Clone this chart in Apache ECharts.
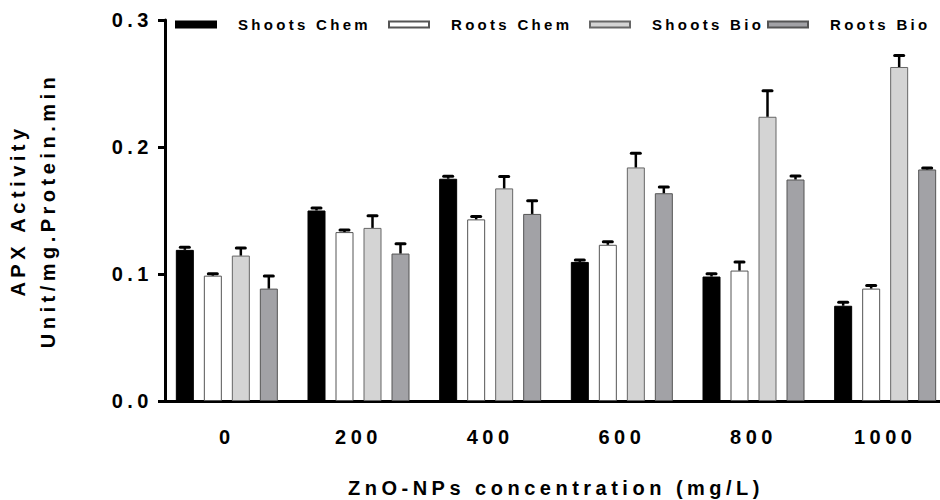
<!DOCTYPE html>
<html>
<head>
<meta charset="utf-8">
<script src="https://cdn.jsdelivr.net/npm/echarts@6/dist/echarts.min.js"></script>
<style>
	html, body { margin: 0; padding: 0; background: #fff; }
	#chart { width: 940px; height: 500px; }
	#chart text { letter-spacing: 4.5px; }
	#chart text[style*="15px"] { letter-spacing: 3.3px; }
</style>
</head>
<body>
<div id="chart"></div>
<script>
var categories = ['0', '200', '400', '600', '800', '1000'];
var seriesNames = ['Shoots Chem', 'Roots Chem', 'Shoots Bio', 'Roots Bio'];
var shootsChem = [0.119, 0.150, 0.175, 0.1095, 0.098, 0.075];
var rootsChem = [0.0987, 0.133, 0.143, 0.123, 0.1027, 0.0885];
var shootsBio = [0.1145, 0.1363, 0.1674, 0.1839, 0.2238, 0.263];
var rootsBio = [0.0885, 0.1161, 0.1473, 0.1636, 0.1744, 0.1823];
var shootsChemErr = [0.002, 0.002, 0.002, 0.0015, 0.0022, 0.0028];
var rootsChemErr = [0.0015, 0.0017, 0.0022, 0.0023, 0.0067, 0.0025];
var shootsBioErr = [0.006, 0.0096, 0.0093, 0.0111, 0.0204, 0.009];
var rootsBioErr = [0.010, 0.0077, 0.0104, 0.0049, 0.0028, 0.0012];

var means = [shootsChem, rootsChem, shootsBio, rootsBio];
var errs = [shootsChemErr, rootsChemErr, shootsBioErr, rootsBioErr];
var fills = ['#000000', '#ffffff', '#d4d4d4', '#a2a2a6'];
var borders = ['#000000', '#555555', '#666666', '#555555'];
var legendLeft = [175, 388, 589, 767];

var barW = 18;
var barGapPx = 10;
var font = 'Liberation Sans, Arial, sans-serif';

let mychart = echarts.init(document.getElementById('chart'), null, { renderer: 'svg' });

var series = [];
var legends = [];
for (var s = 0; s < 4; s++) {
	series.push({
		name: seriesNames[s],
		type: 'bar',
		barWidth: barW,
		barGap: (barGapPx / barW * 100) + '%',
		itemStyle: {
			color: fills[s],
			borderColor: borders[s],
			borderWidth: 1
		},
		data: means[s],
		animation: false
	});
	legends.push({
		data: [seriesNames[s]],
		left: legendLeft[s],
		top: 17,
		padding: 0,
		itemWidth: 40,
		itemHeight: 6,
		icon: 'rect',
		textStyle: {
			color: '#000',
			fontFamily: font,
			fontWeight: 'bold',
			fontSize: 15,
			padding: [5, 0, 0, 17]
		}
	});
}

var errData = [];
for (var s = 0; s < 4; s++) {
	for (var c = 0; c < categories.length; c++) {
		errData.push([c, s, means[s][c], errs[s][c]]);
	}
}

series.push({
	type: 'custom',
	name: 'err',
	z: 5,
	animation: false,
	encode: { x: 0, y: 2 },
	data: errData,
	renderItem: function(params, api) {
		var c = api.value(0);
		var s = api.value(1);
		var base = api.coord([c, api.value(2)]);
		var top = api.coord([c, api.value(2) + api.value(3)]);
		var x = base[0] + (s - 1.5) * (barW + barGapPx);
		return {
			type: 'group',
			children: [{
				type: 'line',
				shape: { x1: x, y1: base[1], x2: x, y2: top[1] },
				style: { stroke: '#000', lineWidth: 2.5 }
			}, {
				type: 'line',
				shape: { x1: x - 4.5, y1: top[1], x2: x + 4.5, y2: top[1] },
				style: { stroke: '#000', lineWidth: 3, lineCap: 'round' }
			}]
		};
	}
});

let option = {
	backgroundColor: '#fff',
	legend: legends,
	grid: {
		left: 161,
		top: 20,
		width: 790,
		height: 381,
		containLabel: false,
		outerBoundsMode: 'none'
	},
	xAxis: {
		type: 'category',
		data: categories,
		name: 'ZnO-NPs concentration (mg/L)',
		nameLocation: 'middle',
		nameGap: 77,
		nameTextStyle: {
			color: '#000',
			fontFamily: font,
			fontWeight: 'bold',
			fontSize: 20
		},
		axisLine: {
			lineStyle: { color: '#000', width: 3 }
		},
		axisTick: {
			alignWithLabel: true,
			length: 8,
			lineStyle: { color: '#000', width: 3 }
		},
		axisLabel: {
			color: '#000',
			fontFamily: font,
			fontWeight: 'bold',
			fontSize: 20,
			margin: 26
		}
	},
	yAxis: {
		type: 'value',
		min: 0,
		max: 0.3,
		interval: 0.1,
		offset: -4,
		name: 'APX Activity\nUnit/mg.Protein.min',
		nameLocation: 'middle',
		nameGap: 102,
		nameTextStyle: {
			color: '#000',
			fontFamily: font,
			fontWeight: 'bold',
			fontSize: 20,
			lineHeight: 30
		},
		splitLine: { show: false },
		axisLine: {
			show: true,
			lineStyle: { color: '#000', width: 3 }
		},
		axisTick: {
			show: true,
			length: 7,
			lineStyle: { color: '#000', width: 3 }
		},
		axisLabel: {
			color: '#000',
			fontFamily: font,
			fontWeight: 'bold',
			fontSize: 20,
			margin: 12,
			formatter: function(v) { return v.toFixed(1); }
		}
	},
	series: series
};

mychart.setOption(option);
</script>
</body>
</html>
